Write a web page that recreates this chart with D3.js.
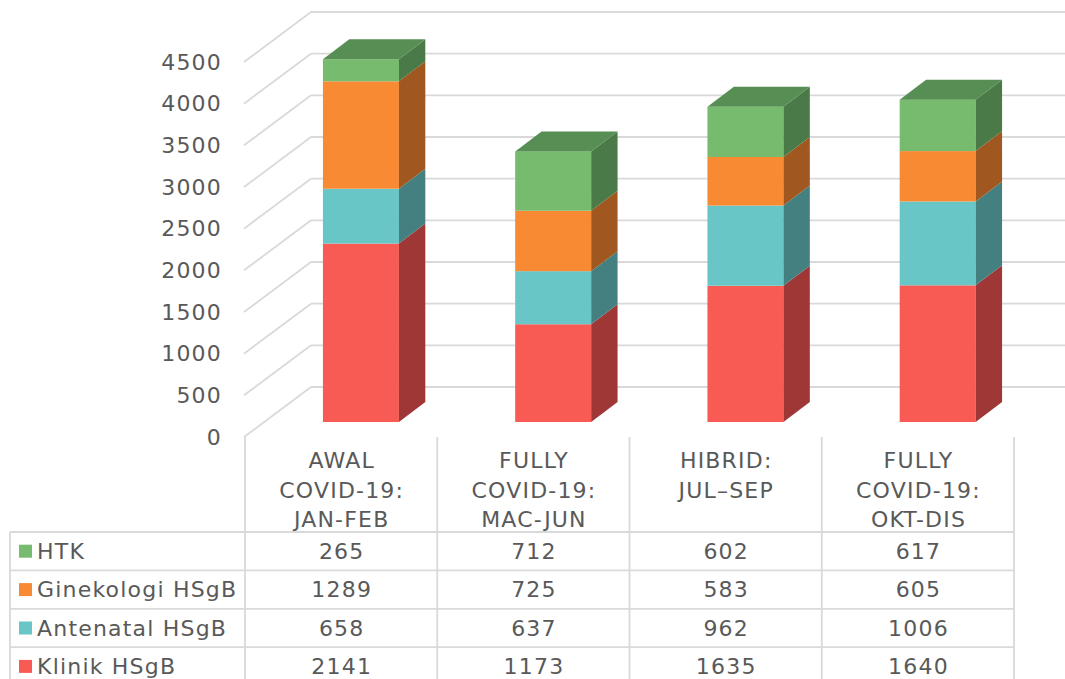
<!DOCTYPE html>
<html>
<head>
<meta charset="utf-8">
<script src="https://cdn.jsdelivr.net/npm/d3@7"></script>
<style>
  html, body { margin: 0; padding: 0; background: #fff; }
  svg { display: block; }
  text { font-family: "DejaVu Sans", Verdana, sans-serif; fill: #595959; letter-spacing: 1.2px; }
</style>
</head>
<body>
<svg id="chart" width="1065" height="679"></svg>
<script>
// ---- data ----
const categories = [
  "AWAL\nCOVID-19:\nJAN-FEB",
  "FULLY\nCOVID-19:\nMAC-JUN",
  "HIBRID:\nJUL\u2013SEP",
  "FULLY\nCOVID-19:\nOKT-DIS"
];
const seriesNames = ["Klinik HSgB", "Antenatal HSgB", "Ginekologi HSgB", "HTK"];
const klinik     = [2141, 1173, 1635, 1640];
const antenatal  = [658, 637, 962, 1006];
const ginekologi = [1289, 725, 583, 605];
const htk        = [265, 712, 602, 617];
const yTicks = [0, 500, 1000, 1500, 2000, 2500, 3000, 3500, 4000, 4500];

// ---- styles ----
const colors = {
  "Klinik HSgB":     { front: "#F85B53", side: "#9E3735", top: "#B5403C" },
  "Antenatal HSgB":  { front: "#68C6C6", side: "#458080", top: "#4F9393" },
  "Ginekologi HSgB": { front: "#F98A34", side: "#A05820", top: "#B76527" },
  "HTK":             { front: "#77BB6E", side: "#4A7A47", top: "#578E53" }
};
const gridColor = "#D9D9D9";

const svg = d3.select("#chart");

// data rows
const rows = categories.map((c, i) => ({
  cat: c,
  "Klinik HSgB": klinik[i],
  "Antenatal HSgB": antenatal[i],
  "Ginekologi HSgB": ginekologi[i],
  "HTK": htk[i]
}));
const stack = d3.stack().keys(seriesNames)(rows);

// ---- scales ----
const x = d3.scaleBand().domain(categories).range([245, 1014]);
const y = d3.scaleLinear().domain([0, 4500]).range([437, 62]);
const DX = 66, DY = -50;            // full depth offset
const off = d => [DX * d, DY * d];

// ---- back wall gridlines ----
const g = svg.append("g");
yTicks.forEach(v => {
  const [bx, by] = off(1);
  g.append("line")
    .attr("x1", 245 + bx).attr("x2", 1014 + bx)
    .attr("y1", y(v) + by).attr("y2", y(v) + by)
    .attr("stroke", gridColor).attr("stroke-width", 1.8);
  g.append("line")
    .attr("x1", 244).attr("y1", y(v))
    .attr("x2", 245 + bx).attr("y2", y(v) + by)
    .attr("stroke", gridColor).attr("stroke-width", 1.8);
});

// ---- y axis labels ----
svg.append("g").selectAll("text").data(yTicks).join("text")
  .attr("x", 222).attr("y", d => y(d))
  .attr("text-anchor", "end").attr("dominant-baseline", "central")
  .style("font-size", "22px")
  .text(d => d);

// ---- bars ----
const barW = 76;
const dFront = 0.3, dBack = 0.7;
const [fx, fy] = off(dFront);
const [bx2, by2] = off(dBack);
const sdx = bx2 - fx, sdy = by2 - fy;

const barsG = svg.append("g");
categories.forEach((c, i) => {
  const cx = x(c) + x.bandwidth() / 2 + fx;
  const x0 = cx - barW / 2, x1 = cx + barW / 2;
  stack.forEach((s, k) => {
    const seg = s[i];
    const yt = y(seg[1]) + fy, yb = y(seg[0]) + fy;
    const col = colors[s.key];
    barsG.append("rect")
      .attr("x", x0).attr("y", yt)
      .attr("width", x1 - x0).attr("height", yb - yt)
      .attr("fill", col.front);
    barsG.append("polygon")
      .attr("points", [[x1, yt], [x1 + sdx, yt + sdy], [x1 + sdx, yb + sdy], [x1, yb]].map(p => p.join(",")).join(" "))
      .attr("fill", col.side);
    if (k === stack.length - 1) {
      barsG.append("polygon")
        .attr("points", [[x0, yt], [x1, yt], [x1 + sdx, yt + sdy], [x0 + sdx, yt + sdy]].map(p => p.join(",")).join(" "))
        .attr("fill", col.top);
    }
  });
});

// ---- data table ----
const tableTop = 532, rowH = 38.4, legendLeft = 10;
const tableRows = ["HTK", "Ginekologi HSgB", "Antenatal HSgB", "Klinik HSgB"];
const tableValues = { "HTK": htk, "Ginekologi HSgB": ginekologi, "Antenatal HSgB": antenatal, "Klinik HSgB": klinik };
const tg = svg.append("g");
// vertical lines
const vlines = categories.map(c => x(c)).concat([x.range()[1]]);
vlines.forEach(vx => {
  tg.append("line").attr("x1", vx).attr("x2", vx)
    .attr("y1", 437).attr("y2", 700)
    .attr("stroke", gridColor).attr("stroke-width", 1.8);
});
tg.append("line").attr("x1", legendLeft).attr("x2", legendLeft)
  .attr("y1", tableTop).attr("y2", 700)
  .attr("stroke", gridColor).attr("stroke-width", 1.8);
// horizontal lines
for (let r = 0; r <= tableRows.length; r++) {
  const yy = tableTop + r * rowH;
  tg.append("line").attr("x1", legendLeft).attr("x2", x.range()[1])
    .attr("y1", yy).attr("y2", yy)
    .attr("stroke", gridColor).attr("stroke-width", 1.8);
}
// category headers
const half = 0.6; // compensate trailing letter-spacing on centered text
categories.forEach(c => {
  const lines = c.split("\n");
  const t = tg.append("text")
    .attr("x", x(c) + x.bandwidth() / 2 + half)
    .attr("y", 468)
    .attr("text-anchor", "middle")
    .style("font-size", "22px");
  lines.forEach((ln, j) => {
    t.append("tspan").attr("x", x(c) + x.bandwidth() / 2 + half)
      .attr("y", 468 + j * 29.5).text(ln);
  });
});
// rows
tableRows.forEach((name, r) => {
  const cy = tableTop + r * rowH + rowH / 2;
  tg.append("rect").attr("x", 19).attr("y", cy - 6.5)
    .attr("width", 13).attr("height", 13).attr("fill", colors[name].front);
  tg.append("text").attr("x", 37).attr("y", cy)
    .attr("dominant-baseline", "central")
    .style("font-size", "22px").text(name);
  categories.forEach((c, i) => {
    tg.append("text")
      .attr("x", x(c) + x.bandwidth() / 2 + half).attr("y", cy)
      .attr("text-anchor", "middle").attr("dominant-baseline", "central")
      .style("font-size", "22px").text(tableValues[name][i]);
  });
});
</script>
</body>
</html>
